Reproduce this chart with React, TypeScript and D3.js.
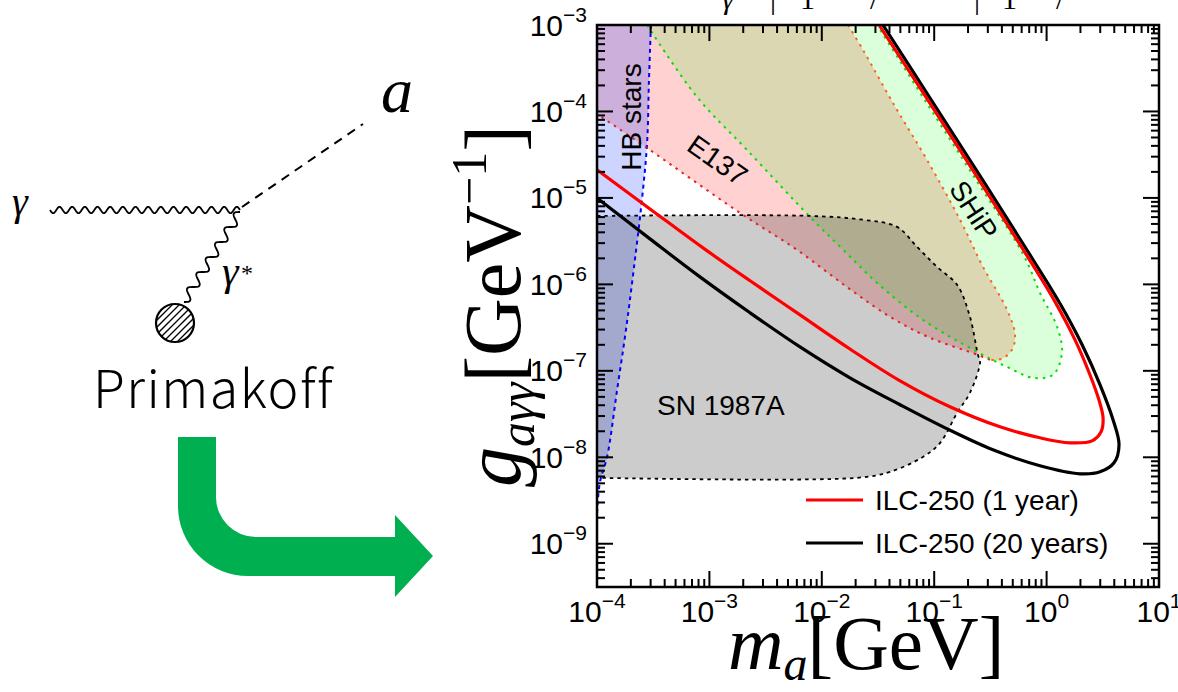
import React from 'react';
import * as d3 from 'd3';

type Pt = [number, number];

// axes: axion mass m_a [GeV] vs coupling g_aγγ [GeV^-1]
const MASS_RANGE: Pt = [1e-4, 10];
const COUPLING_RANGE: Pt = [3.16e-10, 1e-3];
const MASS_DECADES = [1e-4, 1e-3, 1e-2, 1e-1, 1, 10];
const MASS_EXPONENTS = ['−4', '−3', '−2', '−1', '0', '1'];
const COUPLING_DECADES = [1e-3, 1e-4, 1e-5, 1e-6, 1e-7, 1e-8, 1e-9];
const COUPLING_EXPONENTS = ['−3', '−4', '−5', '−6', '−7', '−8', '−9'];

// excluded regions as [m_a, g]
const HB_STARS: Pt[] = [
  [3.02e-4, 1e-3], [2.9e-4, 2.31e-4], [2.79e-4, 4.32e-5], [2.51e-4, 9.48e-6],
  [2.13e-4, 1.55e-6], [1.81e-4, 2.98e-7], [1.51e-4, 6.03e-8], [1.23e-4, 1.01e-8],
  [1.06e-4, 5.07e-9], [1e-4, 2.16e-9],
];
const E137_UPPER: Pt[] = [
  [1.71e-2, 1e-3], [2.33e-2, 5.14e-4], [4.3e-2, 1.25e-4], [8.63e-2, 2.75e-5],
  [0.17, 5.57e-6], [0.272, 1.59e-6], [0.445, 5.07e-7], [0.524, 2.61e-7],
  [0.492, 1.75e-7], [0.401, 1.38e-7], [0.313, 1.34e-7],
];
const E137_LOWER: Pt[] = [
  [0.245, 1.53e-7], [9.18e-2, 2.41e-7], [4.05e-2, 4.21e-7], [1.67e-2, 9.35e-7],
  [6.01e-3, 2.51e-6], [1.87e-3, 6.71e-6], [2.79e-4, 3.78e-5], [1e-4, 9.35e-5],
];
const SHIP: Pt[] = [
  [2.79e-4, 1e-3], [7.76e-4, 1.47e-4], [2.16e-3, 3.59e-5], [7.85e-3, 6.03e-6],
  [1.55e-2, 2.51e-6], [3.1e-2, 1.04e-6], [7.94e-2, 3.89e-7], [0.24, 1.66e-7],
  [0.445, 1.11e-7], [0.757, 8.3e-8], [1.14, 9.0e-8], [1.37, 1.61e-7],
  [1.24, 3.23e-7], [0.873, 7.98e-7], [0.63, 2.13e-6], [0.236, 1.61e-5],
  [8.45e-2, 1.29e-4], [3.1e-2, 1e-3],
];
const SN1987A: Pt[] = [
  [1e-4, 6.19e-6], [7.85e-3, 6.19e-6], [2.37e-2, 5.57e-6], [4.67e-2, 4.62e-6],
  [7.03e-2, 2.72e-6], [0.106, 1.59e-6], [0.16, 9.87e-7], [0.208, 4.21e-7],
  [0.245, 1.53e-7], [0.256, 1.27e-7], [0.208, 5.57e-8], [0.16, 3.27e-8],
  [0.113, 1.47e-8], [7.94e-2, 1.01e-8], [4.05e-2, 6.79e-9], [2.06e-2, 5.79e-9],
  [1e-4, 5.79e-9],
];

// ILC-250 sensitivity contours
const ILC_1YEAR: Pt[] = [
  [1e-4, 2.11e-5], [2.96e-4, 7.46e-6], [8.77e-4, 2.64e-6], [2.3e-3, 1.1e-6],
  [6.4e-3, 4.44e-7], [1.78e-2, 1.79e-7], [4.97e-2, 7.66e-8], [0.138, 3.84e-8],
  [0.385, 2.25e-8], [0.873, 1.68e-8], [1.61, 1.47e-8], [2.54, 1.55e-8],
  [3.05, 1.97e-8], [3.18, 2.86e-8], [2.92, 4.62e-8], [2.43, 9.0e-8],
  [1.79, 2.28e-7], [1.19, 6.28e-7], [0.697, 1.97e-6], [0.251, 1.61e-5],
  [9.0e-2, 1.29e-4], [3.23e-2, 1e-3],
];
const ILC_20YEARS: Pt[] = [
  [1e-4, 1.0e-5], [2.96e-4, 3.36e-6], [8.24e-4, 1.22e-6], [2.3e-3, 4.69e-7],
  [6.4e-3, 1.89e-7], [1.78e-2, 8.3e-8], [4.97e-2, 4.05e-8], [0.125, 2.19e-8],
  [0.333, 1.22e-8], [0.873, 7.98e-9], [1.98, 6.44e-9], [2.99, 6.79e-9],
  [3.98, 8.63e-9], [4.41, 1.4e-8], [3.9, 2.72e-8], [2.99, 6.89e-8],
  [2.07, 2.0e-7], [1.32, 5.96e-7], [0.741, 2.02e-6], [0.266, 1.66e-5],
  [9.55e-2, 1.32e-4], [3.5e-2, 1e-3],
];

const LEGEND_LABELS = ['ILC-250 (1 year)', 'ILC-250 (20 years)'];
const LEGEND_COLORS = ['#ff0000', '#000000'];

// region labels: text, anchor [m, g], rotation
const REGION_LABELS: { text: string; at: Pt; angle: number; anchor: string }[] = [
  { text: 'HB stars', at: [2.0e-4, 8.63e-5], angle: -90, anchor: 'middle' },
  { text: 'E137', at: [1.19e-3, 2.75e-5], angle: 35, anchor: 'middle' },
  { text: 'SHiP', at: [0.226, 7.26e-6], angle: 57, anchor: 'middle' },
  { text: 'SN 1987A', at: [3.42e-4, 3.1e-8], angle: 0, anchor: 'start' },
];

const PLOT = { left: 597, right: 1159, top: 25, bottom: 587 };
const SANS = '"Liberation Sans", Arial, Helvetica, sans-serif';
const SERIF = '"Liberation Serif", "Times New Roman", serif';

// a sinusoidal photon line between two points
function photon(x1: number, y1: number, x2: number, y2: number, amp: number, period: number) {
  const len = Math.hypot(x2 - x1, y2 - y1);
  const n = Math.round(len / period);
  const ux = (x2 - x1) / len, uy = (y2 - y1) / len;
  const pts: Pt[] = d3.range(0, n * 24 + 1).map(i => {
    const t = i / (n * 24);
    const off = amp * Math.sin(2 * Math.PI * n * t);
    return [x1 + ux * len * t - uy * off, y1 + uy * len * t + ux * off];
  });
  return d3.line()(pts) as string;
}

function Diagram() {
  const cx = 175, cy = 323, r = 19;
  return (
    <g>
      <text x={12} y={215} fontFamily={SERIF} fontStyle="italic" fontSize={40}>γ</text>
      <path d={photon(50, 210, 240, 210, 3.2, 12.7)} fill="none" stroke="#000" strokeWidth={1.8} />
      <path d={photon(240, 212, 184, 302, 4.5, 18)} fill="none" stroke="#000" strokeWidth={1.8} />
      <line x1={242} y1={207} x2={363} y2={124} stroke="#000" strokeWidth={2} strokeDasharray="9,7" />
      <text x={381} y={112} fontFamily={SERIF} fontStyle="italic" fontSize={64}>a</text>
      <text x={222} y={285} fontFamily={SERIF} fontStyle="italic" fontSize={42}>γ</text>
      <text x={241} y={281} fontFamily={SERIF} fontSize={24}>*</text>
      <clipPath id="blob">
        <circle cx={cx} cy={cy} r={r} />
      </clipPath>
      <g clipPath="url(#blob)">
        {d3.range(-28, 29, 7).map(d => (
          <line key={d} x1={cx + d - 25} y1={cy + 25} x2={cx + d + 25} y2={cy - 25} stroke="#000" strokeWidth={1.3} />
        ))}
      </g>
      <circle cx={cx} cy={cy} r={r} fill="none" stroke="#000" strokeWidth={2.2} />
      <text
        x={93}
        y={408}
        fontFamily='"Noto Sans CJK JP", "Noto Sans", sans-serif'
        fontWeight={300}
        fontSize={52}
        letterSpacing={1.5}
      >
        Primakoff
      </text>
      <path
        d="M178,437 H216 V497 A40,40 0 0 0 256,537 H395 V515 L433,556 L395,597 V576 H248 A70,70 0 0 1 178,506 Z"
        fill="#00b050"
      />
    </g>
  );
}

export default function App() {
  const x = d3.scaleLog().domain(MASS_RANGE).range([PLOT.left, PLOT.right]);
  const y = d3.scaleLog().domain(COUPLING_RANGE).range([PLOT.bottom, PLOT.top]);
  const curve = d3.line<Pt>().x(d => x(d[0])).y(d => y(d[1])).curve(d3.curveCatmullRom.alpha(0.5));
  const closed = (pts: Pt[], corners: Pt[]) =>
    `${curve(pts)}${corners.map(c => `L${x(c[0])},${y(c[1])}`).join('')}Z`;

  const isDecade = (v: number) => Math.abs(Math.log10(v) - Math.round(Math.log10(v))) < 1e-9;
  const xTicks = x.ticks();
  const yTicks = y.ticks();

  const e137 = [...E137_UPPER, ...E137_LOWER];
  const e137Red = [E137_UPPER[E137_UPPER.length - 1], ...E137_LOWER];
  const lx = PLOT.left + 209, ly0 = 500, lgap = 43;

  return (
    <svg width={1178} height={692} style={{ display: 'block' }}>
      <style>{'body{margin:0}'}</style>
      <rect width={1178} height={692} fill="#fff" />

      {/* title line above the frame, cut by the image edge */}
      <g fontFamily={SERIF} fontStyle="italic" fontSize={30}>
        <text x={722} y={9}>γ</text>
        <text x={770} y={9} fontStyle="normal">|</text>
        <text x={800} y={9} fontStyle="normal">1</text>
        <text x={870} y={9} fontStyle="normal">/</text>
        <text x={974} y={9} fontStyle="normal">|</text>
        <text x={1002} y={9} fontStyle="normal">1</text>
        <text x={1056} y={9} fontStyle="normal">/</text>
      </g>

      <Diagram />

      <clipPath id="plot">
        <rect x={PLOT.left} y={PLOT.top} width={PLOT.right - PLOT.left} height={PLOT.bottom - PLOT.top} />
      </clipPath>

      <g clipPath="url(#plot)">
        <path d={closed(e137, [[1e-4, 1e-3]])} fill="rgba(255,0,0,0.18)" />
        <path d={closed(SHIP, [])} fill="rgba(0,255,0,0.14)" />
        <path d={closed(HB_STARS, [[1e-4, 1e-3]])} fill="rgba(0,40,255,0.2)" />
        <path d={closed(SN1987A, [])} fill="rgba(0,0,0,0.2)" />

        <path d={curve(HB_STARS) as string} fill="none" stroke="#0000ff" strokeWidth={2} strokeDasharray="4,4" />
        <path d={curve(E137_UPPER) as string} fill="none" stroke="#ff6020" strokeWidth={2} strokeDasharray="2.5,5" />
        <path d={curve(e137Red) as string} fill="none" stroke="#e82020" strokeWidth={2} strokeDasharray="2.5,5" />
        <path d={curve(SHIP) as string} fill="none" stroke="#00e000" strokeWidth={2} strokeDasharray="2.5,5" />
        <path d={curve(SN1987A) as string} fill="none" stroke="#000" strokeWidth={1.8} strokeDasharray="3.5,4" />

        <path d={curve(ILC_20YEARS) as string} fill="none" stroke="#000" strokeWidth={3.2} />
        <path d={curve(ILC_1YEAR) as string} fill="none" stroke="#ff0000" strokeWidth={3.2} />
      </g>

      {REGION_LABELS.map(l => (
        <text
          key={l.text}
          transform={`translate(${x(l.at[0])},${y(l.at[1])}) rotate(${l.angle})`}
          textAnchor={l.anchor}
          dy={l.angle === 0 ? 0 : '0.36em'}
          fontFamily={SANS}
          fontSize={28}
        >
          {l.text}
        </text>
      ))}

      {/* legend */}
      {LEGEND_LABELS.map((label, i) => (
        <g key={label}>
          <line x1={lx} x2={lx + 57} y1={ly0 + i * lgap} y2={ly0 + i * lgap} stroke={LEGEND_COLORS[i]} strokeWidth={3.2} />
          <text x={lx + 69} y={ly0 + i * lgap + 10} fontFamily={SANS} fontSize={28}>{label}</text>
        </g>
      ))}

      {/* ticks on all four sides */}
      <g stroke="#000" strokeWidth={2}>
        {xTicks.map(t => {
          const len = isDecade(t) ? 16 : 8;
          return (
            <g key={`x${t}`}>
              <line x1={x(t)} x2={x(t)} y1={PLOT.bottom} y2={PLOT.bottom - len} />
              <line x1={x(t)} x2={x(t)} y1={PLOT.top} y2={PLOT.top + len} />
            </g>
          );
        })}
        {yTicks.map(t => {
          const len = isDecade(t) ? 16 : 8;
          return (
            <g key={`y${t}`}>
              <line x1={PLOT.left} x2={PLOT.left + len} y1={y(t)} y2={y(t)} />
              <line x1={PLOT.right} x2={PLOT.right - len} y1={y(t)} y2={y(t)} />
            </g>
          );
        })}
      </g>
      <rect
        x={PLOT.left}
        y={PLOT.top}
        width={PLOT.right - PLOT.left}
        height={PLOT.bottom - PLOT.top}
        fill="none"
        stroke="#000"
        strokeWidth={2.5}
      />

      {/* tick labels */}
      <g fontFamily={SANS} fontSize={30}>
        {MASS_DECADES.map((v, i) => (
          <text key={v} x={x(v)} y={PLOT.bottom + 35} textAnchor="middle">
            10<tspan fontSize={21} dy={-14}>{MASS_EXPONENTS[i]}</tspan>
          </text>
        ))}
        {COUPLING_DECADES.map((v, i) => (
          <text key={v} x={PLOT.left - 10} y={y(v) + 10.5} textAnchor="end">
            10<tspan fontSize={21} dy={-14}>{COUPLING_EXPONENTS[i]}</tspan>
          </text>
        ))}
      </g>

      {/* axis titles */}
      <text x={728} y={669} fontFamily={SERIF} fontSize={77}>
        <tspan fontStyle="italic">m</tspan>
        <tspan fontStyle="italic" fontSize={48} dy={11}>a</tspan>
        <tspan dy={-11}>[GeV]</tspan>
      </text>
      <text transform="translate(520,487) rotate(-90)" fontFamily={SERIF} fontSize={80}>
        <tspan fontStyle="italic">g</tspan>
        <tspan fontStyle="italic" fontSize={50} dy={14}>aγγ</tspan>
        <tspan dy={-14}>[GeV</tspan>
        <tspan fontSize={50} dy={-34}>−1</tspan>
        <tspan dy={34}>]</tspan>
      </text>
    </svg>
  );
}
